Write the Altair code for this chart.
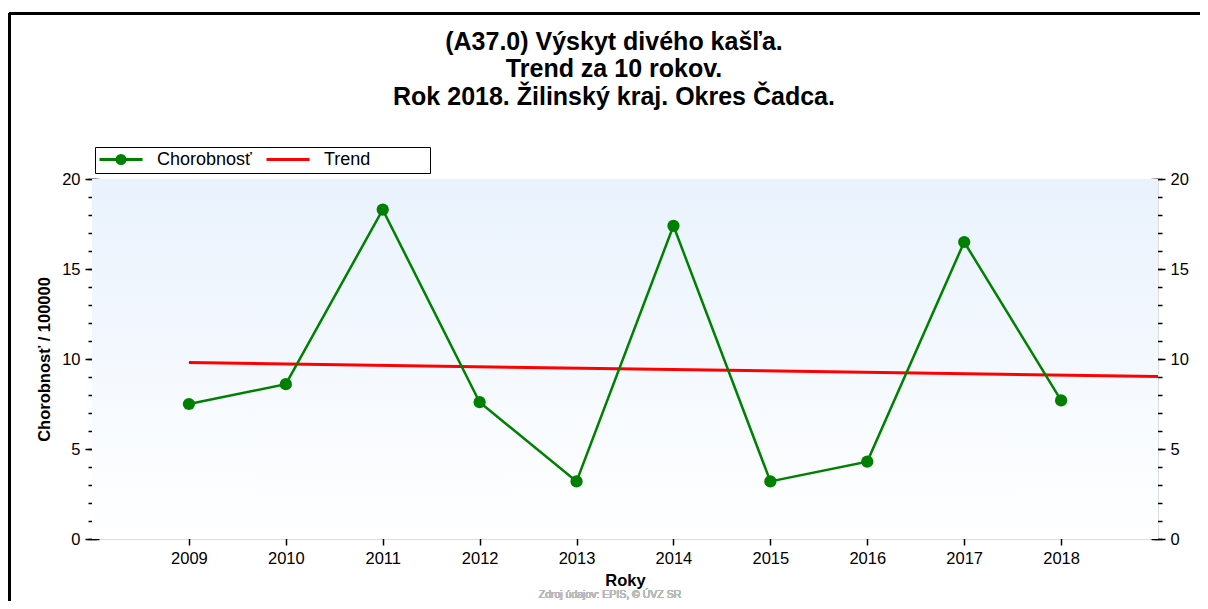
import altair as alt
import pandas as pd

years = [2009, 2010, 2011, 2012, 2013, 2014, 2015, 2016, 2017, 2018]
rates = [7.5, 8.6, 18.3, 7.6, 3.2, 17.4, 3.2, 4.3, 16.5, 7.7]
trend_years = [2009, 2019]
trend_values = [9.8, 9.03]
series_names = ["Chorobnosť", "Trend"]
series_colors = ["#008000", "#ff0000"]
major_ticks = [0, 5, 10, 15, 20]
minor_ticks = list(range(0, 21))
title_lines = ["(A37.0) Výskyt divého kašľa.", "Trend za 10 rokov.", "Rok 2018. Žilinský kraj. Okres Čadca."]
footer_text = "Zdroj údajov: EPIS, © ÚVZ SR"

FONT = "Liberation Sans"
W, H = 1066, 360
LAB = 16.5

df = pd.DataFrame({"year": years, "value": rates, "series": series_names[0]})
dt = pd.DataFrame({"year": trend_years, "value": trend_values, "series": series_names[1]})
dall = pd.concat([df, dt], ignore_index=True)
dminor = pd.DataFrame({"v": minor_ticks})

xdom = alt.Scale(domain=[2008, 2019], nice=False, zero=False)
ydom = alt.Scale(domain=[0, 20], nice=False)

bg = alt.Chart(df).mark_rect(
    color=alt.LinearGradient(gradient="linear",
                             stops=[alt.GradientStop(color="#e9f2fd", offset=0),
                                    alt.GradientStop(color="#ffffff", offset=1)],
                             x1=0, x2=0, y1=0, y2=1)
).encode(x=alt.value(0), x2=alt.value(W), y=alt.value(0), y2=alt.value(H))

frame_top = alt.Chart(df).mark_rule(color="black", strokeWidth=2).encode(
    x=alt.value(-82.5), x2=alt.value(W + 60), y=alt.value(-165.5))
frame_left = alt.Chart(df).mark_rule(color="black", strokeWidth=2).encode(
    x=alt.value(-82.5), y=alt.value(-165.5), y2=alt.value(H + 80))

trend = alt.Chart(dt).mark_line(color="#ff0000", strokeWidth=3).encode(
    x=alt.X("year:Q", scale=xdom, axis=alt.Axis(
        orient="bottom", values=years, format="d", tickSize=12, offset=-6,
        domain=False, grid=False, labelPadding=5, labelFontSize=LAB, labelColor="black",
        labelFont=FONT, title="Roky", titleFont=FONT, titleFontSize=LAB, titleFontWeight="bold",
        titleColor="black", titlePadding=6, tickColor="black", tickWidth=1.5)),
    y=alt.Y("value:Q", scale=ydom, axis=alt.Axis(
        orient="left", values=major_ticks, tickSize=14, offset=-7, domain=False, grid=False,
        labelPadding=5, labelFontSize=LAB, labelColor="black", labelFont=FONT,
        title="Chorobnosť / 100000", titleFont=FONT, titleFontSize=LAB, titleFontWeight="bold",
        titleColor="black", titlePadding=9, tickColor="black", tickWidth=1.5)),
)

green = alt.Chart(df).mark_line(color="#008000", strokeWidth=2.5,
                                point=alt.OverlayMarkDef(filled=True, size=150, color="#008000", opacity=1)).encode(
    x=alt.X("year:Q", scale=xdom, axis=alt.Axis(
        orient="top", values=years, tickSize=7, offset=-7, domain=False, grid=False,
        labels=False, title=None, tickColor="black", tickWidth=1.5)),
    y=alt.Y("value:Q", scale=ydom, axis=alt.Axis(
        orient="right", values=major_ticks, tickSize=14, offset=-7, domain=False, grid=False,
        labelPadding=5, labelFontSize=LAB, labelColor="black", labelFont=FONT,
        title=None, tickColor="black", tickWidth=1.5)),
)

minor_left = alt.Chart(dminor).mark_point(opacity=0).encode(
    x=alt.value(0),
    y=alt.Y("v:Q", scale=ydom, axis=alt.Axis(
        orient="left", values=minor_ticks, tickSize=8, offset=-4, domain=False, grid=False,
        labels=False, title=None, tickColor="black", tickWidth=1.5)),
)
minor_right = alt.Chart(dminor).mark_point(opacity=0).encode(
    x=alt.value(W),
    y=alt.Y("v:Q", scale=ydom, axis=alt.Axis(
        orient="right", values=minor_ticks, tickSize=8, offset=-4, domain=False, grid=False,
        labels=False, title=None, tickColor="black", tickWidth=1.5)),
)

leg = alt.Legend(orient="none", legendX=3, legendY=-32, direction="horizontal", columns=2,
                 gridAlign="none", title=None, fillColor="white", strokeColor="black",
                 padding=3, labelFont=FONT, labelFontSize=18, labelColor="black",
                 labelOffset=40, columnPadding=8, symbolSize=256, symbolStrokeWidth=3,
                 symbolOpacity=1)
shape_paths = ["M-1,0L4.375,0M1.1875,0A0.5,0.5,0,1,1,2.1875,0A0.5,0.5,0,1,1,1.1875,0Z",
               "M-1,0L4.375,0M18.3,0"]
legend_layer = alt.Chart(dall).transform_filter("false").mark_point(filled=True, opacity=1).encode(
    x=alt.value(0), y=alt.value(0),
    color=alt.Color("series:N", scale=alt.Scale(domain=series_names, range=series_colors), legend=leg),
    stroke=alt.Stroke("series:N", scale=alt.Scale(domain=series_names, range=series_colors), legend=leg),
    shape=alt.Shape("series:N", scale=alt.Scale(domain=series_names, range=shape_paths), legend=leg),
)

footer = alt.Chart(df).mark_text(text=footer_text, font=FONT, fontSize=10.5,
                                 color="#b8b8b8", baseline="top").encode(
    x=alt.value(610 - 92), y=alt.value(H + 51))

chart = alt.layer(bg, frame_top, frame_left, minor_left, minor_right, trend, green, legend_layer, footer).resolve_scale(
    x="independent", y="independent"
).properties(
    width=W, height=H,
    autosize=alt.AutoSizeParams(type="none"),
    padding={"left": 84, "top": 171, "right": 42, "bottom": 62},
    title=alt.TitleParams(text=title_lines, font=FONT, fontSize=25, fontWeight="bold", color="black",
                          lineHeight=27.5, anchor="middle", dx=-11, offset=-97),
).configure_view(stroke="black", strokeWidth=1.5).configure(background="white")

chart.save("out.html", embed_options={"renderer": "svg", "actions": False})
